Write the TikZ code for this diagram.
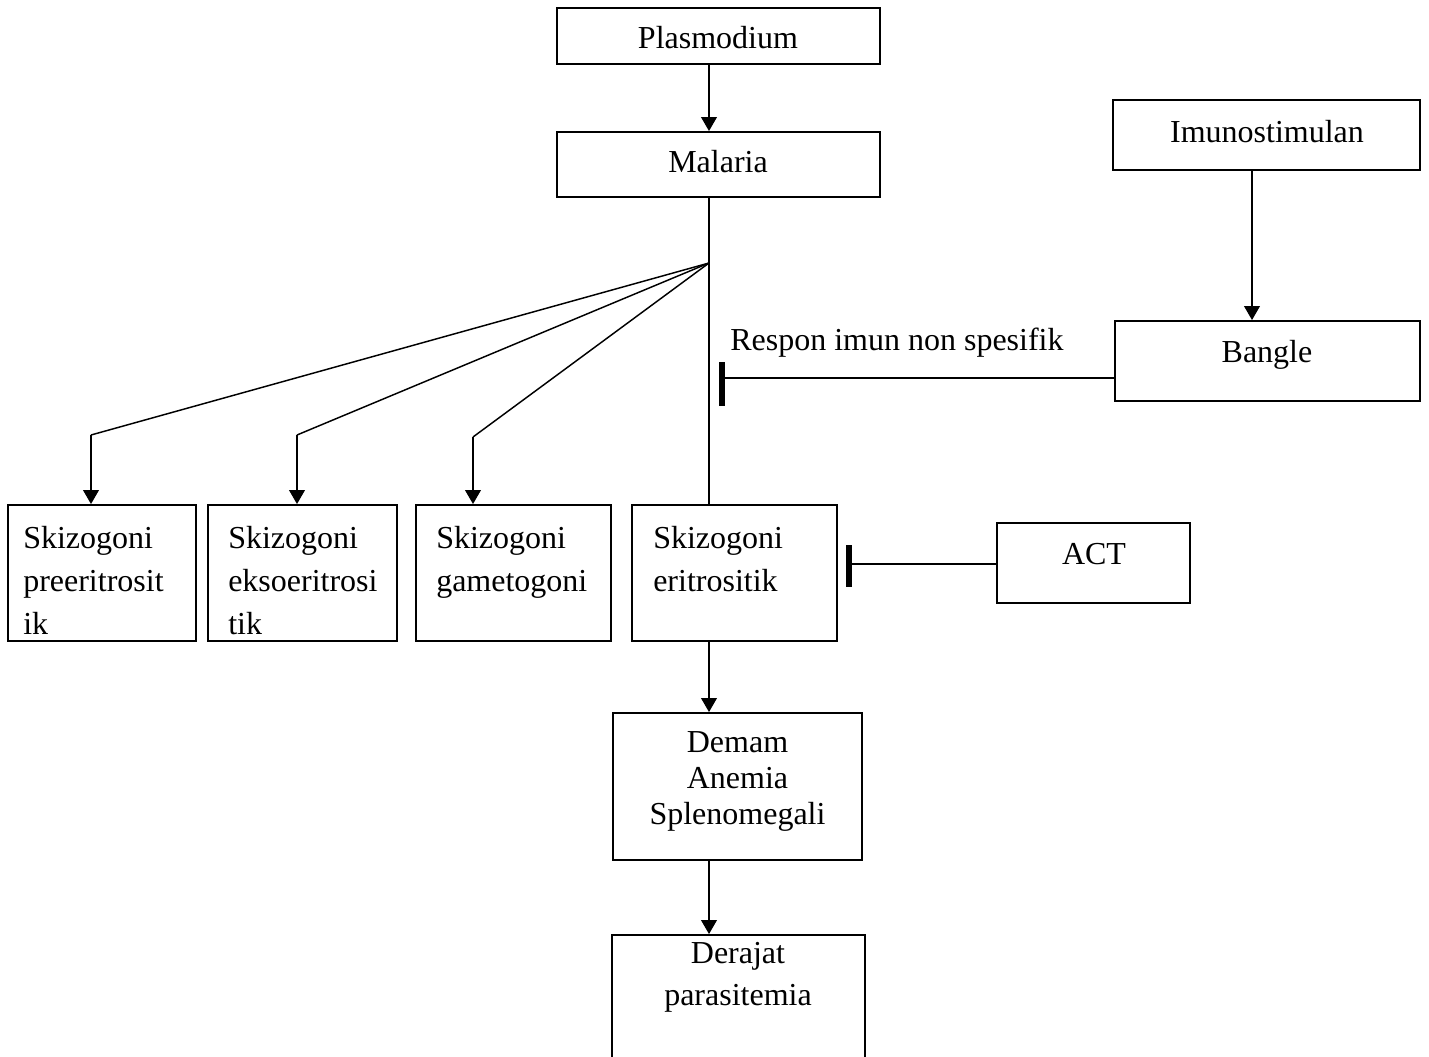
\documentclass[tikz,border=0pt]{standalone}
\usepackage{fontspec}
\setmainfont{Liberation Serif}
\usetikzlibrary{arrows.meta}
\begin{document}
\begin{tikzpicture}[x=0.75pt,y=-0.75pt,
  box/.style={draw, line width=1.3pt, inner sep=0pt},
  lbl/.style={inner sep=0pt, font=\fontsize{24}{32.25}\selectfont},
  arr/.style={line width=1.9pt, -{Triangle[length=10.5pt,width=11.5pt]}},
  ln/.style={line width=1.1pt},
  inh/.style={line width=1.1pt},
  barstroke/.style={line width=4.5pt}]
\useasboundingbox (0,0) rectangle (1429,1057);

% boxes
\node[box, minimum width=242.25pt, minimum height=42pt]    (plas)  at (718.5,36)   {};
\node[box, minimum width=242.25pt, minimum height=48.75pt] (mal)   at (718.5,164.5) {};
\node[box, minimum width=230.25pt, minimum height=52.5pt]  (imu)   at (1266.5,135) {};
\node[box, minimum width=228.75pt, minimum height=60pt]    (bang)  at (1267.5,361) {};
\node[box, minimum width=141pt,    minimum height=102pt]   (s1)    at (102,573)    {};
\node[box, minimum width=141.75pt, minimum height=102pt]   (s2)    at (302.5,573)  {};
\node[box, minimum width=146.25pt, minimum height=102pt]   (s3)    at (513.5,573)  {};
\node[box, minimum width=153.75pt, minimum height=102pt]   (s4)    at (734.5,573)  {};
\node[box, minimum width=144.75pt, minimum height=60pt]    (act)   at (1093.5,563) {};
\node[box, minimum width=186.75pt, minimum height=110.25pt] (dem)  at (737.5,786.5) {};
\node[box, minimum width=189.75pt, minimum height=105pt]   (der)   at (738.5,1005) {};

% texts
\node[lbl, anchor=base] (tplas) at (718,48)   {Plasmodium};
\node[lbl, anchor=base] (tmal)  at (718,172)  {Malaria};
\node[lbl, anchor=base] (timu)  at (1267,142) {Imunostimulan};
\node[lbl, anchor=base] (tbang) at (1267,362) {Bangle};
\node[lbl, anchor=base] (tact)  at (1094,564) {ACT};
\node[lbl, anchor=base west] (tresp) at (730,350) {Respon imun non spesifik};
\node[lbl, anchor=north west, align=left] (ts1) at (23,526)  {Skizogoni\\preeritrosit\\ik};
\node[lbl, anchor=north west, align=left] (ts2) at (228,526) {Skizogoni\\eksoeritrosi\\tik};
\node[lbl, anchor=north west, align=left] (ts3) at (436,526) {Skizogoni\\gametogoni};
\node[lbl, anchor=north west, align=left] (ts4) at (653,526) {Skizogoni\\eritrositik};
\node[lbl, anchor=north, align=center, font=\fontsize{24}{27}\selectfont] (tdem) at (737.5,731)
  {Demam\\Anemia\\Splenomegali};
\node[lbl, anchor=north, align=center, font=\fontsize{24}{31.5}\selectfont] (tder) at (738,942)
  {Derajat\\parasitemia};

% junction points
\coordinate (hub) at (709,263);
\coordinate (k1) at (91,435);
\coordinate (k2) at (297,435);
\coordinate (k3) at (473,437);
\coordinate (imx) at (1252,0);
\coordinate (b1) at (722,378);
\coordinate (b2) at (849,564);

% connectors
\draw[arr] (plas.south -| hub) -- (mal.north -| hub);
\draw[ln]  (mal.south -| hub) -- (s4.north -| hub);
\draw[ln]  (hub) -- (k1);
\draw[ln]  (hub) -- (k2);
\draw[ln]  (hub) -- (k3);
\draw[arr] (k1) -- (s1.north -| k1);
\draw[arr] (k2) -- (s2.north -| k2);
\draw[arr] (k3) -- (s3.north -| k3);
\draw[arr] (imu.south -| imx) -- (bang.north -| imx);
\draw[arr] (s4.south -| hub) -- (dem.north -| hub);
\draw[arr] (dem.south -| hub) -- (der.north -| hub);

% inhibition lines with flat bars
\draw[inh] (bang.west |- b1) -- (b1);
\draw[barstroke] ([yshift=12pt]b1) -- ([yshift=-21pt]b1);
\draw[inh] (act.west |- b2) -- (b2);
\draw[barstroke] ([yshift=14pt]b2) -- ([yshift=-17pt]b2);
\end{tikzpicture}
\end{document}
